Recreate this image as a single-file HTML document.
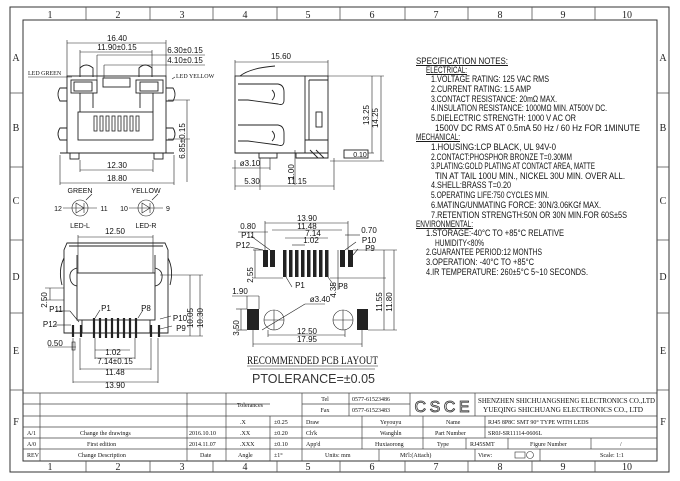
<!DOCTYPE html>
<html><head><meta charset="utf-8"><style>
html,body{margin:0;padding:0;background:#fff}
svg{display:block}
.s{font-family:"Liberation Sans",sans-serif;font-size:9.5px;fill:#111}
.d{font-family:"Liberation Sans",sans-serif;font-size:8px;fill:#111}
.t{font-family:"Liberation Serif",serif;font-size:6px;fill:#111}
.z{font-family:"Liberation Serif",serif;font-size:10px;fill:#222}
</style></head><body>
<svg width="680" height="481" viewBox="0 0 680 481" xmlns="http://www.w3.org/2000/svg">
<g fill="none" stroke="#333" stroke-width="1">
<rect x="10" y="7" width="659" height="465"/>
<rect x="23" y="20" width="634" height="441"/>
</g>
<g stroke="#555" stroke-width="0.8">
<line x1="86" y1="7" x2="86" y2="20"/><line x1="150" y1="7" x2="150" y2="20"/><line x1="213" y1="7" x2="213" y2="20"/><line x1="277" y1="7" x2="277" y2="20"/><line x1="340" y1="7" x2="340" y2="20"/><line x1="405" y1="7" x2="405" y2="20"/><line x1="468" y1="7" x2="468" y2="20"/><line x1="532" y1="7" x2="532" y2="20"/><line x1="595" y1="7" x2="595" y2="20"/>
<line x1="86" y1="461" x2="86" y2="472"/><line x1="150" y1="461" x2="150" y2="472"/><line x1="213" y1="461" x2="213" y2="472"/><line x1="277" y1="461" x2="277" y2="472"/><line x1="340" y1="461" x2="340" y2="472"/><line x1="405" y1="461" x2="405" y2="472"/><line x1="468" y1="461" x2="468" y2="472"/><line x1="532" y1="461" x2="532" y2="472"/><line x1="595" y1="461" x2="595" y2="472"/>
<line x1="10" y1="93" x2="23" y2="93"/><line x1="10" y1="167" x2="23" y2="167"/><line x1="10" y1="240" x2="23" y2="240"/><line x1="10" y1="313" x2="23" y2="313"/><line x1="10" y1="390" x2="23" y2="390"/>
<line x1="657" y1="93" x2="669" y2="93"/><line x1="657" y1="167" x2="669" y2="167"/><line x1="657" y1="240" x2="669" y2="240"/><line x1="657" y1="313" x2="669" y2="313"/><line x1="657" y1="390" x2="669" y2="390"/>
</g>
<g class="z" text-anchor="middle">
<text x="50" y="18">1</text><text x="118" y="18">2</text><text x="182" y="18">3</text><text x="245" y="18">4</text><text x="308" y="18">5</text><text x="372" y="18">6</text><text x="436" y="18">7</text><text x="500" y="18">8</text><text x="563" y="18">9</text><text x="627" y="18">10</text>
<text x="50" y="470">1</text><text x="118" y="470">2</text><text x="182" y="470">3</text><text x="245" y="470">4</text><text x="308" y="470">5</text><text x="372" y="470">6</text><text x="436" y="470">7</text><text x="500" y="470">8</text><text x="563" y="470">9</text><text x="627" y="470">10</text>
<text x="16" y="61">A</text><text x="16" y="131">B</text><text x="16" y="204">C</text><text x="16" y="280">D</text><text x="16" y="354">E</text><text x="16" y="425">F</text>
<text x="663" y="61">A</text><text x="663" y="131">B</text><text x="663" y="204">C</text><text x="663" y="280">D</text><text x="663" y="354">E</text><text x="663" y="425">F</text>
</g>

<!-- FRONT VIEW -->
<g fill="none" stroke="#222" stroke-width="0.9">
<rect x="67" y="76" width="99" height="77"/>
<rect x="78" y="112" width="75" height="28"/>
<path d="M80 77 V68 Q86 62 93 68 V77"/><path d="M139 77 V68 Q145 62 152 68 V77"/>
<rect x="71" y="80" width="26" height="13"/><rect x="136" y="80" width="27" height="13"/>
<rect x="74" y="82" width="18" height="9"/><rect x="140" y="82" width="18" height="9"/>
<rect x="103" y="78" width="27" height="9"/>
<path d="M67 88 H60 Q56 94 60 101 H67"/><path d="M67 128 H60 Q56 134 60 140 H67"/>
<path d="M166 88 H173 Q177 94 173 101 H166"/><path d="M166 128 H173 Q177 134 173 140 H166"/>
<path d="M60 153 H174"/><rect x="70" y="153" width="9" height="6"/><rect x="154" y="153" width="9" height="6"/>
<line x1="80" y1="93" x2="80" y2="112"/><line x1="93" y1="93" x2="93" y2="108"/><line x1="140" y1="93" x2="140" y2="108"/><line x1="153" y1="93" x2="153" y2="112"/>
</g>
<g fill="none" stroke="#222" stroke-width="0.8">
<rect x="94" y="116" width="3" height="15"/><rect x="100" y="116" width="3" height="15"/><rect x="106" y="116" width="3" height="15"/><rect x="112" y="116" width="3" height="15"/><rect x="118" y="116" width="3" height="15"/><rect x="124" y="116" width="3" height="15"/><rect x="130" y="116" width="3" height="15"/><rect x="136" y="116" width="3" height="15"/>
</g>
<g stroke="#222" stroke-width="0.6" fill="none">
<line x1="67" y1="43" x2="166" y2="43"/><line x1="67" y1="40" x2="67" y2="76"/><line x1="166" y1="40" x2="166" y2="76"/>
<line x1="80" y1="52" x2="152" y2="52"/><line x1="80" y1="50" x2="80" y2="68"/><line x1="152" y1="50" x2="152" y2="68"/>
<line x1="97" y1="55" x2="205" y2="55"/><line x1="97" y1="55" x2="97" y2="80"/>
<line x1="104" y1="65" x2="205" y2="65"/><line x1="104" y1="65" x2="104" y2="78"/>
<line x1="28" y1="77" x2="72" y2="77"/><line x1="172" y1="79" x2="175" y2="77"/>
<line x1="80" y1="160" x2="80" y2="172"/><line x1="153" y1="160" x2="153" y2="172"/><line x1="80" y1="170" x2="153" y2="170"/>
<line x1="60" y1="155" x2="60" y2="185"/><line x1="174" y1="155" x2="174" y2="185"/><line x1="60" y1="183" x2="174" y2="183"/>
<line x1="187" y1="100" x2="187" y2="182"/><line x1="168" y1="100" x2="190" y2="100"/><line x1="168" y1="139" x2="190" y2="139"/>
<circle cx="80" cy="208" r="8"/><circle cx="146" cy="208" r="8"/>
<line x1="63" y1="208" x2="97" y2="208"/><line x1="129" y1="208" x2="163" y2="208"/>
<path d="M76 203 V213 L84 208 Z M84 203 V213"/><path d="M142 203 V213 L150 208 Z M150 203 V213"/>
<line x1="86" y1="200" x2="92" y2="194"/><line x1="152" y1="200" x2="158" y2="194"/>
</g>
<g class="d" text-anchor="middle">
<text x="117" y="41">16.40</text><text x="117" y="50">11.90±0.15</text>
<text x="185" y="53">6.30±0.15</text><text x="185" y="63">4.10±0.15</text>
<text x="117" y="168">12.30</text><text x="117" y="181">18.80</text>
<text x="80" y="193" font-size="7">GREEN</text><text x="146" y="193" font-size="7">YELLOW</text>
<text x="58" y="211" font-size="7">12</text><text x="104" y="211" font-size="7">11</text><text x="124" y="211" font-size="7">10</text><text x="168" y="211" font-size="7">9</text>
<text x="80" y="228" font-size="7">LED-L</text><text x="146" y="228" font-size="7">LED-R</text>
<text transform="translate(185,141) rotate(-90)">6.85±0.15</text>
</g>
<text class="t" x="28" y="75">LED GREEN</text><text class="t" x="176" y="78">LED YELLOW</text>

<!-- SIDE VIEW -->
<g fill="none" stroke="#222" stroke-width="0.9">
<rect x="235" y="76" width="93" height="77"/>
<line x1="305" y1="76" x2="305" y2="153"/><line x1="309" y1="80" x2="309" y2="140"/>
<path d="M309 80 H328"/><path d="M305 140 H328"/>
<rect x="316" y="112" width="6" height="15"/>
<path d="M238 84 H278 Q284 85 284 92 V100 Q284 106 278 104 L248 100 H238"/>
<path d="M238 125 H278 Q284 126 284 133 V141 Q284 147 278 145 L248 141 H238"/>
<path d="M272 90 Q277 95 272 100"/><path d="M272 131 Q277 136 272 141"/>
<path d="M240 76 Q250 68 275 66"/>
<path d="M235 153 H328 V158 H296 V153"/><rect x="259" y="153" width="18" height="5"/>
<path d="M310 150 L318 158 M316 150 L324 158"/>
<rect x="344" y="150" width="24" height="8"/>
</g>
<g stroke="#222" stroke-width="0.6" fill="none">
<line x1="235" y1="62" x2="328" y2="62"/><line x1="235" y1="60" x2="235" y2="76"/><line x1="328" y1="60" x2="328" y2="76"/>
<line x1="328" y1="76" x2="384" y2="76"/><line x1="368" y1="153" x2="374" y2="153"/><line x1="330" y1="161" x2="384" y2="161"/>
<line x1="372" y1="76" x2="372" y2="153"/><line x1="381" y1="76" x2="381" y2="161"/>
<line x1="260" y1="158" x2="260" y2="190"/><line x1="270" y1="158" x2="270" y2="170"/><line x1="235" y1="160" x2="235" y2="190"/><line x1="334" y1="158" x2="334" y2="190"/>
<line x1="235" y1="186" x2="260" y2="186"/><line x1="260" y1="186" x2="334" y2="186"/>
<line x1="295" y1="150" x2="295" y2="185"/><line x1="232" y1="168" x2="270" y2="168"/>
</g>
<g class="d" text-anchor="middle">
<text x="281" y="59">15.60</text><text x="252" y="184">5.30</text><text x="297" y="184">11.15</text>
<text x="250" y="166">ø3.10</text><text x="360" y="157" font-size="7">0.10</text>
<text transform="translate(369,115) rotate(-90)">13.25</text><text transform="translate(378,118) rotate(-90)">14.25</text>
<text transform="translate(294,172) rotate(-90)">1.00</text>
</g>

<!-- SPEC NOTES -->
<g class="s">
<text x="416" y="64" textLength="92" lengthAdjust="spacingAndGlyphs" text-decoration="underline">SPECIFICATION NOTES:</text>
<text x="426" y="73" textLength="41" lengthAdjust="spacingAndGlyphs" text-decoration="underline">ELECTRICAL:</text>
<text x="431" y="82" textLength="118" lengthAdjust="spacingAndGlyphs">1.VOLTAGE RATING: 125 VAC RMS</text>
<text x="431" y="92" textLength="100" lengthAdjust="spacingAndGlyphs">2.CURRENT RATING: 1.5 AMP</text>
<text x="431" y="102" textLength="126" lengthAdjust="spacingAndGlyphs">3.CONTACT RESISTANCE: 20mΩ MAX.</text>
<text x="431" y="111" textLength="176" lengthAdjust="spacingAndGlyphs">4.INSULATION RESISTANCE: 1000MΩ MIN. AT500V DC.</text>
<text x="431" y="121" textLength="145" lengthAdjust="spacingAndGlyphs">5.DIELECTRIC STRENGTH: 1000 V AC OR</text>
<text x="435" y="131" textLength="205" lengthAdjust="spacingAndGlyphs">1500V DC RMS AT 0.5mA 50 Hz / 60 Hz FOR 1MINUTE</text>
<text x="416" y="140" textLength="44" lengthAdjust="spacingAndGlyphs" text-decoration="underline">MECHANICAL:</text>
<text x="431" y="150" textLength="125" lengthAdjust="spacingAndGlyphs">1.HOUSING:LCP BLACK, UL 94V-0</text>
<text x="431" y="160" textLength="141" lengthAdjust="spacingAndGlyphs">2.CONTACT:PHOSPHOR BRONZE T=0.30MM</text>
<text x="431" y="169" textLength="164" lengthAdjust="spacingAndGlyphs">3.PLATING:GOLD PLATING AT CONTACT AREA, MATTE</text>
<text x="435" y="179" textLength="190" lengthAdjust="spacingAndGlyphs">TIN AT TAIL 100U MIN., NICKEL 30U MIN. OVER ALL.</text>
<text x="431" y="188" textLength="80" lengthAdjust="spacingAndGlyphs">4.SHELL:BRASS T=0.20</text>
<text x="431" y="198" textLength="118" lengthAdjust="spacingAndGlyphs">5.OPERATING LIFE:750 CYCLES MIN.</text>
<text x="431" y="208" textLength="170" lengthAdjust="spacingAndGlyphs">6.MATING/UNMATING  FORCE: 30N/3.06KGf MAX.</text>
<text x="431" y="218" textLength="196" lengthAdjust="spacingAndGlyphs">7.RETENTION  STRENGTH:50N OR 30N MIN.FOR 60S±5S</text>
<text x="416" y="227" textLength="57" lengthAdjust="spacingAndGlyphs" text-decoration="underline">ENVIRONMENTAL:</text>
<text x="426" y="236" textLength="138" lengthAdjust="spacingAndGlyphs">1.STORAGE:-40°C TO +85°C  RELATIVE</text>
<text x="435" y="246" textLength="49" lengthAdjust="spacingAndGlyphs">HUMIDITY&lt;80%</text>
<text x="426" y="255" textLength="116" lengthAdjust="spacingAndGlyphs">2.GUARANTEE PERIOD:12 MONTHS</text>
<text x="426" y="265" textLength="108" lengthAdjust="spacingAndGlyphs">3.OPERATION: -40°C TO +85°C</text>
<text x="426" y="275" textLength="162" lengthAdjust="spacingAndGlyphs">4.IR TEMPERATURE: 260±5°C 5~10 SECONDS.</text>
</g>

<!-- BOTTOM LEFT VIEW -->
<g fill="none" stroke="#222" stroke-width="0.9">
<path d="M67 243 H165 L168 250 V333 H64 V250 Z"/>
<path d="M69 246 H163"/>
<rect x="77" y="273" width="78" height="47"/>
<line x1="77" y1="255" x2="77" y2="273"/><line x1="155" y1="255" x2="155" y2="273"/>
<path d="M77 268 Q69 270 70 278 Q71 285 77 286"/><path d="M155 268 Q163 270 162 278 Q161 285 155 286"/>
<path d="M64 258 Q58 270 62 285"/><path d="M168 258 Q174 270 170 285"/>
<line x1="82" y1="320" x2="82" y2="333"/><line x1="150" y1="320" x2="150" y2="333"/>
</g>
<g stroke="#222" stroke-width="2.2">
<line x1="73" y1="325" x2="73" y2="337"/><line x1="81" y1="325" x2="81" y2="337"/>
<line x1="94" y1="318" x2="94" y2="338"/><line x1="100" y1="318" x2="100" y2="338"/><line x1="106" y1="318" x2="106" y2="338"/><line x1="112" y1="318" x2="112" y2="338"/><line x1="118" y1="318" x2="118" y2="338"/><line x1="124" y1="318" x2="124" y2="338"/><line x1="130" y1="318" x2="130" y2="338"/><line x1="136" y1="318" x2="136" y2="338"/>
<line x1="151" y1="325" x2="151" y2="337"/><line x1="159" y1="325" x2="159" y2="337"/>
</g>
<g stroke="#222" stroke-width="0.6" fill="none">
<line x1="78" y1="237" x2="153" y2="237"/><line x1="78" y1="235" x2="78" y2="273"/><line x1="153" y1="235" x2="153" y2="273"/>
<line x1="45" y1="288" x2="64" y2="288"/><line x1="45" y1="300" x2="64" y2="300"/><line x1="50" y1="288" x2="50" y2="300"/>
<line x1="160" y1="275" x2="203" y2="275"/><line x1="160" y1="336" x2="203" y2="336"/><line x1="190" y1="275" x2="190" y2="336"/><line x1="200" y1="275" x2="200" y2="336"/>
<line x1="73" y1="338" x2="73" y2="383"/><line x1="158" y1="338" x2="158" y2="383"/><line x1="80" y1="338" x2="80" y2="370"/><line x1="151" y1="338" x2="151" y2="370"/><line x1="95" y1="338" x2="95" y2="359"/><line x1="135" y1="338" x2="135" y2="359"/>
<line x1="95" y1="350" x2="130" y2="350"/><line x1="95" y1="358" x2="135" y2="358"/><line x1="80" y1="369" x2="151" y2="369"/><line x1="73" y1="382" x2="158" y2="382"/>
<line x1="48" y1="347" x2="76" y2="347"/><rect x="72" y="342" width="3" height="8"/>
<line x1="56" y1="311" x2="70" y2="311"/><line x1="70" y1="311" x2="79" y2="322"/><line x1="55" y1="325" x2="71" y2="325"/>
<line x1="100" y1="310" x2="95" y2="318"/><line x1="143" y1="310" x2="138" y2="318"/>
<line x1="160" y1="319" x2="171" y2="316"/><line x1="160" y1="329" x2="172" y2="326"/>
</g>
<g class="d" text-anchor="middle">
<text x="115" y="234">12.50</text><text x="106" y="311">P1</text><text x="146" y="311">P8</text>
<text x="56" y="312">P11</text><text x="50" y="327">P12</text><text x="180" y="321">P10</text><text x="181" y="331">P9</text>
<text x="55" y="346">0.50</text><text x="113" y="355">1.02</text><text x="115" y="364">7.14±0.15</text><text x="115" y="375">11.48</text><text x="115" y="388">13.90</text>
<text transform="translate(47,300) rotate(-90)">2.50</text>
<text transform="translate(193,318) rotate(-90)">10.05</text><text transform="translate(203,318) rotate(-90)">10.30</text>
</g>

<!-- PCB LAYOUT -->
<g fill="#222">
<rect x="263" y="250" width="5" height="17"/><rect x="270" y="250" width="5" height="17"/>
<rect x="283" y="250" width="3.5" height="27"/><rect x="289" y="250" width="3.5" height="27"/><rect x="295" y="250" width="3.5" height="27"/><rect x="301" y="250" width="3.5" height="27"/><rect x="307" y="250" width="3.5" height="27"/><rect x="313" y="250" width="3.5" height="27"/><rect x="319" y="250" width="3.5" height="27"/><rect x="325" y="250" width="3.5" height="27"/>
<rect x="340" y="250" width="5" height="17"/><rect x="348" y="250" width="5" height="17"/>
<rect x="247" y="309" width="12" height="21"/><rect x="357" y="309" width="11" height="21"/>
</g>
<g stroke="#222" stroke-width="0.6" fill="none">
<circle cx="274" cy="320" r="10"/><circle cx="343" cy="320" r="10"/>
<line x1="264" y1="320" x2="284" y2="320"/><line x1="274" y1="310" x2="274" y2="330"/><line x1="333" y1="320" x2="353" y2="320"/><line x1="343" y1="310" x2="343" y2="330"/>
<line x1="265" y1="223" x2="348" y2="223"/><line x1="265" y1="221" x2="265" y2="250"/><line x1="348" y1="221" x2="348" y2="250"/>
<line x1="272" y1="230" x2="342" y2="230"/><line x1="285" y1="238" x2="328" y2="238"/><line x1="292" y1="245" x2="305" y2="245"/>
<line x1="238" y1="232" x2="268" y2="232"/><line x1="345" y1="235" x2="360" y2="235"/>
<line x1="253" y1="250" x2="263" y2="250"/><line x1="253" y1="278" x2="283" y2="278"/><line x1="255" y1="250" x2="255" y2="278"/>
<line x1="330" y1="278" x2="386" y2="278"/><line x1="338" y1="250" x2="338" y2="290"/>
<line x1="353" y1="250" x2="397" y2="250"/><line x1="368" y1="330" x2="397" y2="330"/><line x1="384" y1="250" x2="384" y2="330"/><line x1="394" y1="250" x2="394" y2="330"/>
<line x1="232" y1="296" x2="259" y2="296"/><line x1="247" y1="296" x2="247" y2="309"/><line x1="259" y1="296" x2="259" y2="309"/>
<line x1="236" y1="309" x2="247" y2="309"/><line x1="236" y1="330" x2="247" y2="330"/><line x1="241" y1="309" x2="241" y2="330"/>
<line x1="268" y1="335" x2="345" y2="335"/><line x1="253" y1="344" x2="362" y2="344"/><line x1="253" y1="330" x2="253" y2="347"/><line x1="362" y1="330" x2="362" y2="347"/><line x1="268" y1="330" x2="268" y2="337"/><line x1="345" y1="330" x2="345" y2="337"/>
<line x1="262" y1="330" x2="305" y2="304"/><line x1="305" y1="304" x2="325" y2="304"/>
<line x1="292" y1="287" x2="286" y2="277"/><line x1="335" y1="287" x2="328" y2="277"/>
<line x1="251" y1="236" x2="270" y2="250"/><line x1="250" y1="247" x2="263" y2="250"/><line x1="356" y1="242" x2="345" y2="250"/><line x1="358" y1="249" x2="353" y2="255"/>
<line x1="247" y1="366" x2="378" y2="366"/><line x1="250" y1="369" x2="375" y2="369"/>
</g>
<g class="d" text-anchor="middle">
<text x="307" y="221">13.90</text><text x="307" y="229">11.48</text><text x="313" y="236">7.14</text><text x="311" y="243">1.02</text>
<text x="248" y="229">0.80</text><text x="369" y="233">0.70</text>
<text x="248" y="238">P11</text><text x="243" y="248">P12</text><text x="369" y="243">P10</text><text x="370" y="251">P9</text>
<text x="300" y="288">P1</text><text x="343" y="289">P8</text>
<text x="320" y="302">ø3.40</text><text x="240" y="294">1.90</text>
<text x="307" y="334">12.50</text><text x="307" y="342">17.95</text>
<text transform="translate(253,275) rotate(-90)">2.55</text><text transform="translate(336,290) rotate(-90)">4.35</text>
<text transform="translate(382,302) rotate(-90)">11.55</text><text transform="translate(392,302) rotate(-90)">11.80</text>
<text transform="translate(239,328) rotate(-90)">3.50</text>
</g>
<text x="247" y="364" font-family="Liberation Serif,serif" font-size="12" textLength="131" lengthAdjust="spacingAndGlyphs" fill="#111">RECOMMENDED PCB LAYOUT</text>
<text x="252" y="383" font-family="Liberation Sans,sans-serif" font-size="13" textLength="123" lengthAdjust="spacingAndGlyphs" fill="#333">PTOLERANCE=±0.05</text>

<!-- TITLE BLOCK -->
<g stroke="#444" stroke-width="0.7" fill="none">
<line x1="23" y1="393" x2="657" y2="393"/>
<line x1="302" y1="404" x2="410" y2="404"/>
<line x1="23" y1="416" x2="657" y2="416"/><line x1="23" y1="427" x2="657" y2="427"/><line x1="23" y1="438" x2="657" y2="438"/><line x1="23" y1="449" x2="657" y2="449"/>
<line x1="23" y1="404" x2="270" y2="404"/>
<line x1="40" y1="393" x2="40" y2="461"/><line x1="187" y1="393" x2="187" y2="461"/><line x1="226" y1="393" x2="226" y2="461"/><line x1="270" y1="416" x2="270" y2="461"/><line x1="302" y1="393" x2="302" y2="461"/><line x1="349" y1="393" x2="349" y2="416"/>
<line x1="410" y1="393" x2="410" y2="416"/><line x1="475" y1="393" x2="475" y2="416"/>
<line x1="362" y1="416" x2="362" y2="449"/><line x1="423" y1="416" x2="423" y2="449"/><line x1="485" y1="416" x2="485" y2="438"/>
<line x1="466" y1="438" x2="466" y2="449"/><line x1="508" y1="438" x2="508" y2="449"/><line x1="591" y1="438" x2="591" y2="449"/>
<line x1="379" y1="449" x2="379" y2="461"/><line x1="475" y1="449" x2="475" y2="461"/><line x1="540" y1="449" x2="540" y2="461"/>
</g>
<g class="t">
<text x="250" y="407" text-anchor="middle">Tolerances</text>
<text x="325" y="401" text-anchor="middle">Tel</text><text x="325" y="412" text-anchor="middle">Fax</text>
<text x="352" y="401">0577-61523486</text><text x="352" y="412">0577-61523483</text>
<text x="478" y="403" font-size="7.5" textLength="177" lengthAdjust="spacingAndGlyphs">SHENZHEN SHICHUANGSHENG ELECTRONICS CO.,LTD</text>
<text x="483" y="412" font-size="7.5" textLength="160" lengthAdjust="spacingAndGlyphs">YUEQING SHICHUANG ELECTRONICS CO., LTD</text>
<text x="240" y="424">.X</text><text x="274" y="424">±0.25</text><text x="306" y="424">Draw</text><text x="380" y="424">Yeyouyu</text><text x="446" y="424">Name</text><text x="488" y="424">RJ45 8P8C SMT 90° TYPE WITH LEDS</text>
<text x="27" y="435">A/1</text><text x="80" y="435">Change the drawings</text><text x="189" y="435">2016.10.10</text><text x="240" y="435">.XX</text><text x="274" y="435">±0.20</text><text x="306" y="435">Ch'k</text><text x="380" y="435">Wanghln</text><text x="435" y="435">Part Number</text><text x="488" y="435">SR0J-SR11114-0606L</text>
<text x="27" y="446">A/0</text><text x="87" y="446">First edition</text><text x="189" y="446">2014.11.07</text><text x="240" y="446">.XXX</text><text x="274" y="446">±0.10</text><text x="306" y="446">App'd</text><text x="375" y="446">Huxiaorong</text><text x="437" y="446">Type</text><text x="470" y="446">RJ45SMT</text><text x="530" y="446">Figure Number</text><text x="620" y="446">/</text>
<text x="27" y="457">REV</text><text x="78" y="457">Change Description</text><text x="200" y="457">Date</text><text x="238" y="457">Angle</text><text x="274" y="457">±1°</text><text x="325" y="457">Units: mm</text><text x="400" y="457">Mt'l:(Attach)</text><text x="478" y="457">View:</text><text x="600" y="457">Scale: 1:1</text>
</g>
<text x="442" y="412" text-anchor="middle" font-family="Liberation Sans,sans-serif" font-size="16" fill="#fff" stroke="#333" stroke-width="0.8" textLength="55">CSCE</text>
<g stroke="#333" stroke-width="0.6" fill="none"><rect x="515" y="452" width="10" height="6"/><circle cx="530" cy="455" r="3.5"/></g>
</svg>
</body></html>
